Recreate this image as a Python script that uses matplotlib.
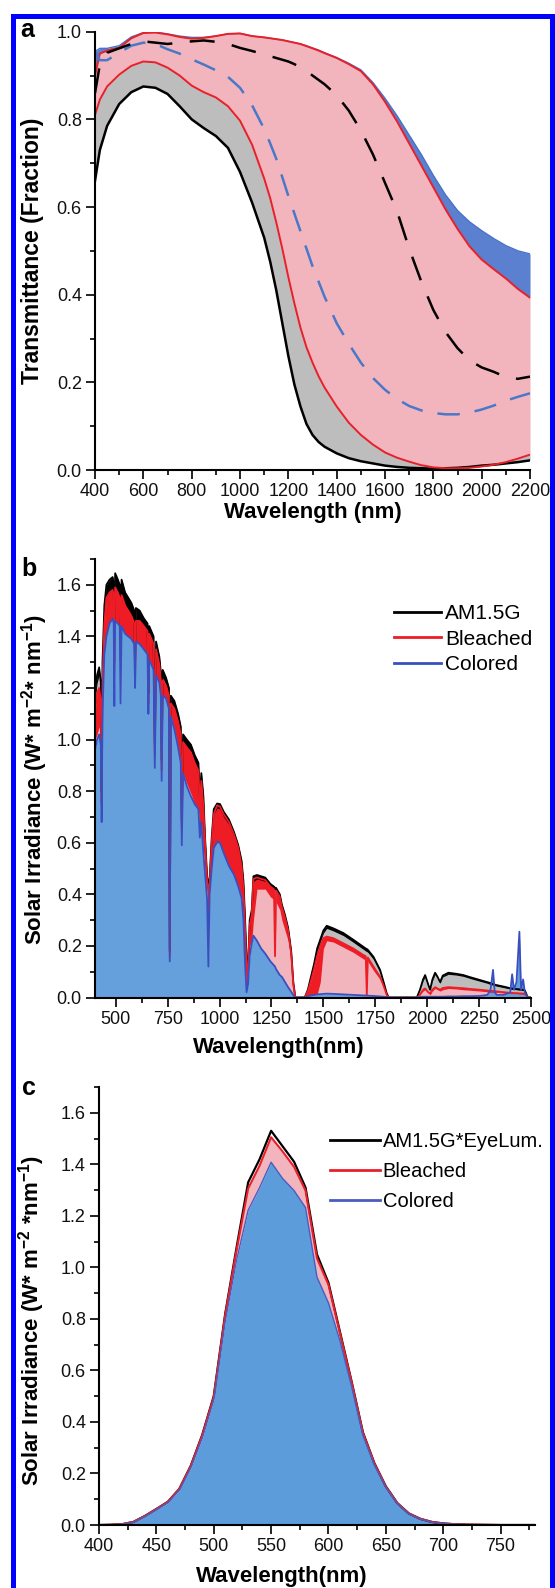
import matplotlib
matplotlib.use("Agg")
import matplotlib.pyplot as plt
import numpy as np
from matplotlib.lines import Line2D
from matplotlib.patches import Rectangle
from matplotlib.ticker import MultipleLocator

plt.rcParams["font.family"] = ["Liberation Sans", "DejaVu Sans"]
plt.rcParams["mathtext.default"] = "regular"

# ── panel a: transmittance curves ─────────────────────────────────────────────
A_WL = [400, 420, 450, 500, 550, 600, 650, 700, 750, 800, 850, 900, 950, 1000,
        1050, 1100, 1125, 1150, 1175, 1200, 1225, 1250, 1275, 1300, 1325, 1350,
        1400, 1450, 1500, 1550, 1600, 1650, 1700, 1750, 1800, 1850, 1900, 1950,
        2000, 2050, 2100, 2150, 2200]
A_BLACK_LOW = [0.66, 0.73, 0.785, 0.835, 0.862, 0.875, 0.872, 0.858, 0.83, 0.80,
               0.78, 0.762, 0.735, 0.68, 0.61, 0.53, 0.475, 0.41, 0.335, 0.26,
               0.195, 0.145, 0.105, 0.08, 0.064, 0.053, 0.038, 0.027, 0.02,
               0.015, 0.01, 0.007, 0.005, 0.004, 0.003, 0.004, 0.005, 0.007,
               0.01, 0.012, 0.015, 0.018, 0.022]
A_RED_LOW = [0.81, 0.845, 0.875, 0.902, 0.922, 0.932, 0.93, 0.918, 0.90, 0.877,
             0.862, 0.85, 0.83, 0.797, 0.742, 0.665, 0.62, 0.565, 0.505, 0.44,
             0.38, 0.325, 0.28, 0.245, 0.214, 0.188, 0.145, 0.108, 0.08, 0.058,
             0.04, 0.028, 0.019, 0.011, 0.006, 0.004, 0.004, 0.005, 0.008,
             0.012, 0.018, 0.026, 0.035]
A_BLUE_DASH = [0.955, 0.935, 0.935, 0.952, 0.968, 0.975, 0.972, 0.96, 0.95, 0.937,
               0.925, 0.912, 0.897, 0.872, 0.832, 0.778, 0.745, 0.71, 0.668,
               0.625, 0.585, 0.545, 0.505, 0.465, 0.43, 0.395, 0.335, 0.288,
               0.245, 0.21, 0.183, 0.162, 0.146, 0.136, 0.13, 0.127, 0.127,
               0.131, 0.138, 0.147, 0.158, 0.167, 0.175]
A_BLACK_DASH = [0.86, 0.925, 0.952, 0.962, 0.972, 0.978, 0.975, 0.972, 0.975,
                0.978, 0.98, 0.977, 0.972, 0.963, 0.956, 0.948, 0.944, 0.94,
                0.936, 0.932, 0.926, 0.918, 0.91, 0.90, 0.89, 0.88, 0.855, 0.82,
                0.775, 0.72, 0.655, 0.59, 0.505, 0.43, 0.365, 0.315, 0.278, 0.25,
                0.234, 0.224, 0.212, 0.208, 0.213]
A_RED_UP = [0.90, 0.95, 0.957, 0.963, 0.985, 0.997, 0.998, 0.994, 0.988, 0.984,
            0.986, 0.99, 0.995, 0.996, 0.99, 0.987, 0.985, 0.983, 0.981, 0.978,
            0.975, 0.972, 0.967, 0.962, 0.957, 0.951, 0.94, 0.926, 0.91, 0.88,
            0.84, 0.795, 0.745, 0.695, 0.645, 0.595, 0.55, 0.51, 0.48, 0.458,
            0.437, 0.413, 0.393]
A_BLUE_UP = [0.955, 0.962, 0.962, 0.968, 0.988, 0.998, 0.999, 0.995, 0.99, 0.987,
             0.987, 0.99, 0.995, 0.996, 0.99, 0.987, 0.985, 0.983, 0.981, 0.978,
             0.975, 0.972, 0.968, 0.963, 0.958, 0.952, 0.941, 0.928, 0.913,
             0.884, 0.848, 0.808, 0.764, 0.72, 0.672, 0.628, 0.592, 0.566,
             0.546, 0.528, 0.512, 0.50, 0.493]

# ── panel b: solar irradiance spectra ─────────────────────────────────────────
B_WL = [400, 410, 420, 428, 432, 436, 445, 455, 470, 485, 490, 493, 497, 510,
        519, 523, 528, 545, 560, 575, 589, 593, 597, 615, 635, 653, 657, 661,
        682, 688, 694, 710, 717, 721, 726, 742, 756, 760, 765, 782, 800, 813,
        818, 824, 842, 862, 880, 898, 905, 912, 922, 930, 940, 946, 952, 962,
        972, 988, 1002, 1020, 1045, 1070, 1090, 1106, 1115, 1122, 1130, 1137,
        1145, 1155, 1163, 1180, 1200, 1220, 1245, 1262, 1267, 1272, 1290, 1300,
        1315, 1330, 1345, 1355, 1365, 1410, 1425, 1440, 1455, 1470, 1485, 1500,
        1516, 1548, 1596, 1644, 1692, 1704, 1709, 1714, 1741, 1773, 1790, 1805,
        1815, 1950, 1965, 1980, 1990, 2005, 2014, 2025, 2038, 2050, 2062, 2075,
        2102, 2140, 2174, 2210, 2254, 2290, 2305, 2317, 2325, 2335, 2370, 2400,
        2409, 2418, 2430, 2444, 2452, 2462, 2470, 2485, 2500]
B_AM = [1.18, 1.25, 1.28, 1.22, 0.80, 1.30, 1.52, 1.60, 1.62, 1.63, 1.60, 1.40,
        1.645, 1.62, 1.60, 1.40, 1.62, 1.57, 1.55, 1.53, 1.50, 1.30, 1.51, 1.50,
        1.47, 1.45, 1.18, 1.44, 1.40, 0.98, 1.38, 1.32, 1.26, 0.92, 1.27, 1.24,
        1.20, 0.18, 1.17, 1.15, 1.10, 1.05, 0.68, 1.02, 1.00, 0.98, 0.94, 0.91,
        0.78, 0.87, 0.78, 0.62, 0.47, 0.44, 0.46, 0.62, 0.73, 0.752, 0.75, 0.72,
        0.69, 0.64, 0.59, 0.53, 0.45, 0.32, 0.15, 0.12, 0.30, 0.34, 0.47, 0.475,
        0.47, 0.465, 0.44, 0.43, 0.425, 0.425, 0.40, 0.36, 0.32, 0.27, 0.18, 0.06,
        0.0, 0.0, 0.03, 0.08, 0.13, 0.19, 0.225, 0.26, 0.278, 0.268, 0.25, 0.224,
        0.197, 0.19, 0.188, 0.185, 0.158, 0.107, 0.06, 0.016, 0.0, 0.0, 0.03,
        0.07, 0.087, 0.05, 0.03, 0.07, 0.096, 0.08, 0.06, 0.085, 0.096, 0.092,
        0.087, 0.078, 0.068, 0.06, 0.056, 0.052, 0.05, 0.048, 0.042, 0.036,
        0.035, 0.034, 0.033, 0.032, 0.031, 0.03, 0.028, 0.0, 0.0]
B_AM_LOW = [1.15, 1.22, 1.25, 1.20, 0.78, 1.28, 1.48, 1.55, 1.57, 1.58, 1.56, 1.38,
            1.58, 1.57, 1.55, 1.38, 1.56, 1.52, 1.50, 1.48, 1.45, 1.28, 1.46, 1.46,
            1.44, 1.42, 1.16, 1.41, 1.37, 0.96, 1.35, 1.29, 1.24, 0.90, 1.24, 1.21,
            1.17, 0.17, 1.14, 1.12, 1.07, 1.02, 0.66, 0.99, 0.97, 0.95, 0.91, 0.88,
            0.76, 0.84, 0.75, 0.60, 0.45, 0.42, 0.44, 0.60, 0.71, 0.735, 0.73, 0.70,
            0.67, 0.62, 0.57, 0.50, 0.40, 0.28, 0.12, 0.10, 0.28, 0.32, 0.45, 0.46,
            0.455, 0.45, 0.43, 0.42, 0.415, 0.415, 0.39, 0.35, 0.31, 0.26, 0.17,
            0.06, 0.0, 0.0, 0.03, 0.075, 0.12, 0.18, 0.215, 0.25, 0.268, 0.258,
            0.24, 0.214, 0.187, 0.18, 0.178, 0.175, 0.148, 0.097, 0.055, 0.015,
            0.0, 0.0, 0.03, 0.065, 0.08, 0.045, 0.03, 0.065, 0.09, 0.075, 0.055,
            0.08, 0.09, 0.087, 0.082, 0.073, 0.063, 0.055, 0.05, 0.048, 0.046,
            0.044, 0.038, 0.033, 0.032, 0.031, 0.03, 0.029, 0.028, 0.027, 0.025,
            0.0, 0.0]
B_BLEACH = [1.10, 1.18, 1.20, 1.15, 0.75, 1.22, 1.45, 1.55, 1.57, 1.58, 1.56, 1.30,
            1.59, 1.57, 1.55, 1.30, 1.56, 1.52, 1.50, 1.48, 1.45, 1.25, 1.46, 1.46,
            1.44, 1.42, 1.14, 1.41, 1.37, 0.94, 1.35, 1.29, 1.23, 0.88, 1.23, 1.21,
            1.17, 0.16, 1.14, 1.12, 1.07, 1.02, 0.65, 0.99, 0.97, 0.95, 0.91, 0.88,
            0.75, 0.84, 0.74, 0.60, 0.45, 0.42, 0.44, 0.60, 0.71, 0.745, 0.74, 0.71,
            0.68, 0.63, 0.58, 0.51, 0.42, 0.28, 0.12, 0.10, 0.28, 0.32, 0.46, 0.465,
            0.46, 0.455, 0.43, 0.42, 0.16, 0.415, 0.39, 0.35, 0.31, 0.26, 0.17,
            0.05, 0.0, 0.0, 0.025, 0.065, 0.11, 0.16, 0.20, 0.23, 0.236, 0.23,
            0.21, 0.19, 0.165, 0.16, 0.01, 0.155, 0.12, 0.08, 0.045, 0.01, 0.0,
            0.0, 0.01, 0.03, 0.035, 0.02, 0.015, 0.03, 0.04, 0.035, 0.03, 0.037,
            0.04, 0.038, 0.036, 0.033, 0.03, 0.027, 0.026, 0.025, 0.024, 0.023,
            0.02, 0.018, 0.018, 0.017, 0.017, 0.016, 0.016, 0.015, 0.014, 0.0, 0.0]
B_BLEACH_LOW = [1.00, 1.02, 1.05, 1.00, 0.72, 1.12, 1.33, 1.40, 1.45, 1.47, 1.45,
                1.16, 1.46, 1.45, 1.44, 1.17, 1.44, 1.41, 1.40, 1.39, 1.37, 1.22,
                1.38, 1.37, 1.35, 1.33, 1.12, 1.31, 1.27, 0.91, 1.25, 1.22, 1.17,
                0.86, 1.17, 1.16, 1.12, 0.15, 1.09, 1.04, 0.97, 0.91, 0.61, 0.87,
                0.83, 0.79, 0.75, 0.73, 0.64, 0.68, 0.57, 0.50, 0.40, 0.16, 0.40,
                0.50, 0.58, 0.60, 0.60, 0.56, 0.51, 0.47, 0.43, 0.39, 0.30, 0.14,
                0.03, 0.06, 0.20, 0.22, 0.30, 0.42, 0.42, 0.42, 0.39, 0.38, 0.15,
                0.37, 0.34, 0.30, 0.26, 0.22, 0.14, 0.04, 0.0, 0.0, 0.005, 0.008,
                0.01, 0.012, 0.06, 0.19, 0.22, 0.215, 0.195, 0.175, 0.15, 0.145,
                0.005, 0.14, 0.105, 0.07, 0.04, 0.01, 0.0, 0.0, 0.01, 0.025, 0.03,
                0.02, 0.01, 0.025, 0.035, 0.03, 0.025, 0.03, 0.035, 0.033, 0.03,
                0.028, 0.025, 0.022, 0.02, 0.02, 0.02, 0.02, 0.017, 0.015, 0.015,
                0.015, 0.015, 0.014, 0.014, 0.013, 0.012, 0.0, 0.0]
B_COLOR = [0.96, 1.00, 1.02, 0.98, 0.68, 1.10, 1.33, 1.40, 1.45, 1.47, 1.45, 1.13,
           1.46, 1.45, 1.44, 1.14, 1.44, 1.41, 1.40, 1.39, 1.37, 1.20, 1.38, 1.37,
           1.35, 1.33, 1.10, 1.31, 1.27, 0.89, 1.25, 1.22, 1.17, 0.84, 1.17, 1.16,
           1.12, 0.14, 1.09, 1.04, 0.97, 0.91, 0.59, 0.87, 0.82, 0.78, 0.75, 0.73,
           0.62, 0.68, 0.56, 0.48, 0.38, 0.12, 0.40, 0.50, 0.58, 0.604, 0.60, 0.56,
           0.51, 0.475, 0.43, 0.386, 0.30, 0.14, 0.02, 0.05, 0.16, 0.21, 0.24, 0.22,
           0.19, 0.17, 0.14, 0.125, 0.12, 0.11, 0.087, 0.08, 0.06, 0.04, 0.022,
           0.01, 0.0, 0.0, 0.005, 0.008, 0.01, 0.012, 0.013, 0.014, 0.015, 0.014,
           0.012, 0.01, 0.008, 0.008, 0.007, 0.007, 0.006, 0.004, 0.003, 0.002,
           0.0, 0.0, 0.002, 0.003, 0.003, 0.003, 0.003, 0.003, 0.003, 0.003,
           0.003, 0.003, 0.004, 0.004, 0.005, 0.005, 0.006, 0.01, 0.03, 0.107,
           0.02, 0.01, 0.01, 0.02, 0.09, 0.03, 0.06, 0.255, 0.03, 0.07, 0.02, 0.0,
           0.0]

# ── panel c: eye-weighted irradiance ──────────────────────────────────────────
C_WL = list(range(400, 790, 10))
C_AM = [0.0, 0.001, 0.003, 0.012, 0.035, 0.062, 0.09, 0.14, 0.23, 0.35, 0.50,
        0.82, 1.08, 1.33, 1.42, 1.53, 1.47, 1.41, 1.31, 1.05, 0.94, 0.75, 0.56,
        0.36, 0.24, 0.15, 0.085, 0.045, 0.024, 0.012, 0.006, 0.003, 0.0015,
        0.001, 0.0005, 0.0, 0.0, 0.0, 0.0]
C_BLEACH = [0.0, 0.001, 0.003, 0.012, 0.035, 0.062, 0.09, 0.14, 0.229, 0.348,
            0.497, 0.815, 1.07, 1.306, 1.395, 1.505, 1.45, 1.39, 1.298, 1.035,
            0.932, 0.745, 0.557, 0.358, 0.239, 0.149, 0.085, 0.045, 0.024, 0.012,
            0.006, 0.003, 0.0015, 0.001, 0.0005, 0.0, 0.0, 0.0, 0.0]
C_COLOR = [0.0, 0.001, 0.003, 0.011, 0.033, 0.06, 0.087, 0.135, 0.222, 0.338,
           0.485, 0.79, 1.03, 1.222, 1.31, 1.408, 1.345, 1.298, 1.232, 0.962,
           0.862, 0.715, 0.54, 0.348, 0.233, 0.146, 0.083, 0.044, 0.023, 0.0115,
           0.0058, 0.003, 0.0015, 0.001, 0.0005, 0.0, 0.0, 0.0, 0.0]

LEGEND_B = ["AM1.5G", "Bleached", "Colored"]
LEGEND_C = ["AM1.5G*EyeLum.", "Bleached", "Colored"]

RED = "#e8202a"
PINK = "#f3b5bd"
GRAY = "#bdbdbd"
DARKBLUE = "#3a4fbf"


def style_axes(ax, xmaj, xmin, ymaj, ymin):
    for side in ("top", "right"):
        ax.spines[side].set_visible(False)
    for side in ("left", "bottom"):
        ax.spines[side].set_linewidth(1.5)
    ax.xaxis.set_major_locator(MultipleLocator(xmaj))
    ax.xaxis.set_minor_locator(MultipleLocator(xmin))
    ax.yaxis.set_major_locator(MultipleLocator(ymaj))
    ax.yaxis.set_minor_locator(MultipleLocator(ymin))
    ax.tick_params(which="major", direction="out", length=6.5, width=1.3,
                   labelsize=13, pad=3, colors="#111111")
    ax.tick_params(which="minor", direction="out", length=3.5, width=1.2)


fig = plt.figure(figsize=(5.55, 15.88), dpi=100)

# ── panel a ───────────────────────────────────────────────────────────────────
ax1 = fig.add_axes([0.1712, 0.70403, 0.7838, 0.27601])
wl = np.array(A_WL)
ax1.fill_between(wl, A_BLACK_LOW, A_RED_LOW, color=GRAY, lw=0)
ax1.fill_between(wl, A_RED_LOW, A_RED_UP, color=PINK, lw=0)
ax1.fill_between(wl, A_RED_UP, A_BLUE_UP, color="#5a80cf", lw=0)
ax1.plot(wl, A_BLUE_UP, color="#4a72c8", lw=1.0)
ax1.plot(wl, A_BLACK_LOW, color="black", lw=1.8)
ax1.plot(wl, A_RED_LOW, color=RED, lw=1.4)
ax1.plot(wl, A_RED_UP, color=RED, lw=1.4)
ax1.plot(wl, A_BLUE_DASH, color="#4a78c8", lw=1.8, ls=(0, (9, 6)))
ax1.plot(wl, A_BLACK_DASH, color="black", lw=1.8, ls=(0, (10, 7)))
ax1.set_xlim(400, 2200)
ax1.set_ylim(0, 1.0)
style_axes(ax1, 200, 100, 0.2, 0.1)
ax1.set_xlabel("Wavelength (nm)", fontsize=16, fontweight="bold", va="center")
ax1.xaxis.set_label_coords(0.5, -0.098)
ax1.set_ylabel("Transmittance (Fraction)", fontsize=16.5, fontweight="bold",
               va="center")
ax1.yaxis.set_label_coords(-0.1448, 0.5)

# ── panel b ───────────────────────────────────────────────────────────────────
ax2 = fig.add_axes([0.1712, 0.37185, 0.7856, 0.27613])
wl = np.array(B_WL)
am = np.array(B_AM)
bl = np.array(B_BLEACH)
co = np.array(B_COLOR)
ax2.fill_between(wl, 0, co, color="#65a0dc", lw=0)
ax2.fill_between(wl, co, bl, where=bl >= co, interpolate=True, color=PINK, lw=0)
ax2.fill_between(wl, bl, am, where=am >= bl, interpolate=True, color=GRAY, lw=0)
ax2.fill_between(wl, B_BLEACH_LOW, bl, color="#ee1c25", lw=0)
ax2.fill_between(wl, B_AM_LOW, am, color="black", lw=0)
ax2.plot(wl, am, color="black", lw=1.3)
ax2.plot(wl, bl, color="#ee1c25", lw=1.3)
ax2.plot(wl, co, color=DARKBLUE, lw=1.3)
ax2.set_xlim(400, 2500)
ax2.set_ylim(0, 1.7)
style_axes(ax2, 250, 125, 0.2, 0.1)
ax2.set_xlabel("Wavelength(nm)", fontsize=16, fontweight="bold", va="center")
ax2.xaxis.set_label_coords(0.421, -0.113)
ax2.set_ylabel("Solar Irradiance (W* m$^{-2}$* nm$^{-1}$)", fontsize=16,
               fontweight="bold", va="center")
ax2.yaxis.set_label_coords(-0.1376, 0.498)
handles_b = [Line2D([], [], color=c, lw=2) for c in ("black", "#ee1c25", DARKBLUE)]
ax2.legend(handles_b, LEGEND_B, loc="upper left", bbox_to_anchor=(0.6855, 0.8975),
           frameon=False, fontsize=15, handlelength=2.24, handletextpad=0.23,
           labelspacing=0.32, borderpad=0, borderaxespad=0)

# ── panel c ───────────────────────────────────────────────────────────────────
ax3 = fig.add_axes([0.17838, 0.03967, 0.78559, 0.27582])
wl = np.array(C_WL)
ax3.fill_between(wl, 0, C_COLOR, color="#5c9cdb", lw=0)
ax3.fill_between(wl, C_COLOR, C_BLEACH, color=PINK, lw=0)
ax3.plot(wl, C_AM, color="black", lw=1.6)
ax3.plot(wl, C_BLEACH, color=RED, lw=1.5)
ax3.plot(wl, C_COLOR, color="#4a5cc0", lw=1.0)
ax3.set_xlim(400, 780)
ax3.set_ylim(0, 1.7)
style_axes(ax3, 50, 25, 0.2, 0.1)
ax3.set_xlabel("Wavelength(nm)", fontsize=16, fontweight="bold", va="center")
ax3.xaxis.set_label_coords(0.4186, -0.1187)
ax3.set_ylabel("Solar Irradiance (W* m$^{-2}$ *nm$^{-1}$)", fontsize=16,
               fontweight="bold", va="center")
ax3.yaxis.set_label_coords(-0.1537, 0.466)
handles_c = [Line2D([], [], color=c, lw=2) for c in ("black", RED, "#4a5cc0")]
ax3.legend(handles_c, LEGEND_C, loc="upper left", bbox_to_anchor=(0.53, 0.8975),
           frameon=False, fontsize=14.5, handlelength=2.5, handletextpad=0.12,
           labelspacing=0.56, borderpad=0, borderaxespad=0)

# panel letters
for label, (px, py) in zip(["a", "b", "c"], [(27, 30), (29, 569), (29, 1088)]):
    fig.text(px / 555, 1 - py / 1588, label, fontsize=18, fontweight="bold",
             ha="center", va="center")

# blue frame round the figure
fig.patches.append(Rectangle((13.3 / 555, -0.01), 538.2 / 555, 1.0 - 15.5 / 1588 + 0.01,
                             transform=fig.transFigure, fill=False,
                             edgecolor="#0000ff", lw=3.6))

fig.savefig("out.png", dpi=100)
